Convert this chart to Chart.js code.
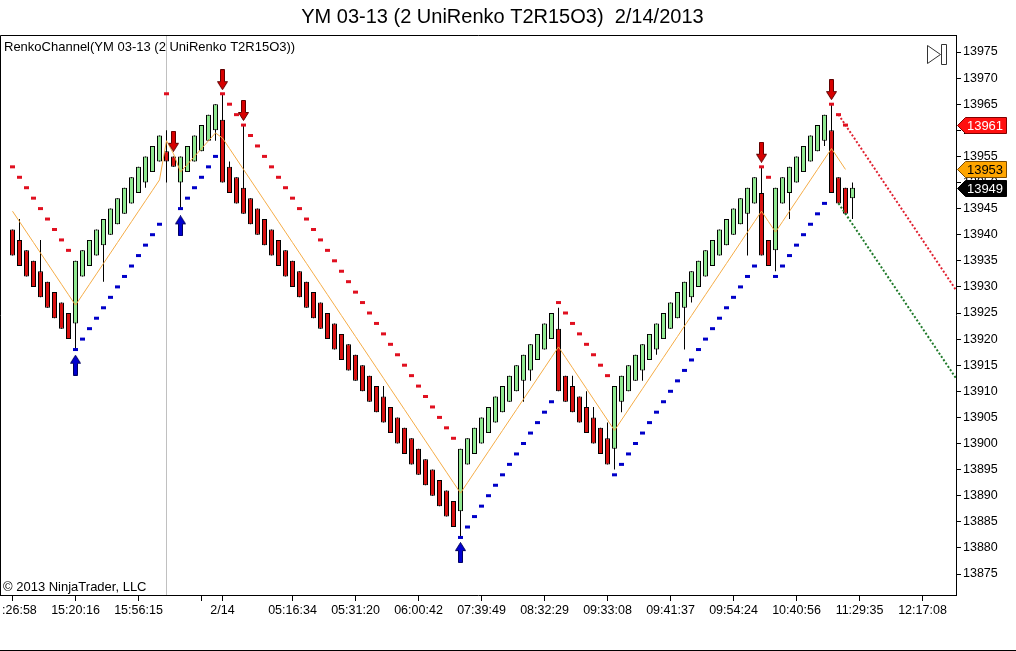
<!DOCTYPE html>
<html><head><meta charset="utf-8">
<script src="https://cdn.jsdelivr.net/npm/chart.js@4.4.1/dist/chart.umd.min.js"></script>
<style>html,body{margin:0;padding:0;background:#fff;overflow:hidden}canvas{display:block}</style>
</head><body>
<canvas id="c" width="1016" height="651"></canvas>
<script>
const titleText = 'YM 03-13 (2 UniRenko T2R15O3)  2/14/2013  ';
const indicatorLabel = 'RenkoChannel(YM 03-13 (2 UniRenko T2R15O3))';
const copyrightText = '\u00A9 2013 NinjaTrader, LLC';

const opens = [13941,13939,13937,13935,13933,13931,13929,13927,13925,
 13923,
 13932,13934,13936,13938,13940,13942,13944,13946,13948,13950,13952,13954,
 13956,13955,
 13950,13952,13954,13956,13958,13960,
 13962,
 13953,13951,13949,13947,13945,13943,13941,13939,13937,13935,
 13933,13931,13929,13927,13925,13923,13921,13919,13917,13915,
 13913,13911,13909,13907,13905,13903,13901,13899,13897,13895,
 13893,13891,13889,
 13887,
 13896,13898,13900,13902,13904,13906,13908,13910,13912,13914,13916,13918,13920,
 13922,
 13913,13911,13909,13907,13905,13903,13901,
 13899,
 13908,13910,13912,13914,13916,13918,13920,13922,13924,13926,13928,13930,13932,13934,13936,13938,13940,13942,13944,13946,
 13948,
 13939,
 13937,
 13946,13948,13950,13952,13954,13956,13958,
 13960,
 13951,13949,
 13947];

const closes = [13936,13934,13932,13930,13928,13926,13924,13922,13920,
 13935,
 13937,13939,13941,13943,13945,13947,13949,13951,13953,13955,13957,13959,
 13954,13953,
 13955,13957,13959,13961,13963,13965,
 13950,
 13948,13946,13944,13942,13940,13938,13936,13934,13932,13930,
 13928,13926,13924,13922,13920,13918,13916,13914,13912,13910,
 13908,13906,13904,13902,13900,13898,13896,13894,13892,13890,
 13888,13886,13884,
 13899,
 13901,13903,13905,13907,13909,13911,13913,13915,13917,13919,13921,13923,13925,
 13910,
 13908,13906,13904,13902,13900,13898,13896,
 13911,
 13913,13915,13917,13919,13921,13923,13925,13927,13929,13931,13933,13935,13937,13939,13941,13943,13945,13947,13949,13951,
 13936,
 13934,
 13949,
 13951,13953,13955,13957,13959,13961,13963,
 13948,
 13946,13944,
 13949];

const highs = [13941,13943,13937,13935,13939,13931,13929,13927,13925,
 13935,
 13937,13939,13941,13943,13945,13947,13949,13951,13953,13955,13957,13959,
 13960,13955,
 13955,13957,13959,13961,13963,13965,
 13967,
 13954,13951,13961,13947,13945,13943,13941,13939,13937,13935,
 13933,13931,13929,13927,13925,13923,13921,13919,13917,13915,
 13913,13911,13911,13907,13905,13903,13901,13899,13897,13895,
 13893,13891,13889,
 13899,
 13901,13903,13905,13907,13909,13911,13913,13915,13917,13919,13921,13923,13925,
 13926,
 13913,13913,13909,13910,13907,13903,13904,
 13911,
 13913,13915,13917,13919,13921,13923,13925,13927,13929,13931,13933,13935,13937,13939,13941,13943,13945,13947,13949,13951,
 13953,
 13939,
 13949,
 13951,13953,13955,13957,13959,13961,13963,
 13965,
 13951,13949,
 13950];

const lows = [13936,13934,13932,13930,13928,13926,13924,13922,13920,
 13918,
 13932,13934,13936,13931,13940,13942,13944,13946,13948,13949,13952,13954,
 13950,13953,
 13945,13952,13954,13956,13958,13958,
 13950,
 13948,13946,13944,13942,13940,13938,13936,13934,13932,13930,
 13928,13926,13924,13922,13920,13918,13916,13914,13912,13910,
 13908,13906,13904,13902,13900,13898,13896,13894,13892,13890,
 13888,13886,13884,
 13882,
 13896,13898,13900,13902,13904,13906,13908,13910,13908,13912,13916,13918,13920,
 13910,
 13908,13906,13904,13902,13900,13898,13896,
 13895,
 13906,13910,13912,13912,13916,13917,13920,13922,13924,13918,13927,13930,13932,13934,13936,13938,13940,13942,13936,13946,
 13936,
 13934,
 13933,
 13946,13943,13950,13952,13954,13956,13957,
 13948,
 13946,13944,
 13943];

const upperChannel = [13953,13951,13949,13947,13945,13943,13941,13939,13937,
 null,null,null,null,null,null,null,null,null,null,null,null,null,
 13967,null,
 null,null,null,null,null,null,
 13967,13965,13963,13961,13959,13957,13955,13953,13951,13949,13947,13945,13943,13941,13939,13937,13935,
 13933,13931,13929,13927,13925,13923,13921,13919,13917,13915,13913,13911,13909,13907,13905,13903,13901,
 null,null,null,null,null,null,null,null,null,null,null,null,null,null,
 13927,13925,13923,13921,13919,13917,13915,13913,
 null,null,null,null,null,null,null,null,null,null,null,null,null,null,null,null,null,null,null,null,null,
 13953,13951,
 null,null,null,null,null,null,null,null,
 13965,13963,13961,
 null];

const lowerChannel = [null,null,null,null,null,null,null,null,null,
 13918,13920,13922,13924,13926,13928,13930,13932,13934,13936,13938,13940,13942,
 null,null,
 13945,13947,13949,13951,13953,13955,
 null,null,null,null,null,null,null,null,null,null,null,null,null,null,null,null,null,
 null,null,null,null,null,null,null,null,null,null,null,null,null,null,null,null,null,
 13882,13884,13886,13888,13890,13892,13894,13896,13898,13900,13902,13904,13906,13908,
 null,null,null,null,null,null,null,null,
 13894,13896,13898,13900,13902,13904,13906,13908,13910,13912,13914,13916,13918,13920,13922,13924,13926,13928,13930,13932,13934,
 null,null,
 13932,13934,13936,13938,13940,13942,13944,13946,
 null,null,null,null];

const midLine = [13944.5,13942.5,13940.5,13938.5,13936.5,13934.5,13932.5,13930.5,13928.5,
 13926.5,13928.5,13930.5,13932.5,13934.5,13936.5,13938.5,13940.5,13942.5,13944.5,13946.5,13948.5,13950.5,
 13958,13955.5,
 13952,13953.5,13955,13956.5,13958,13959.5,
 13958.5,13956.5,13954.5,13952.5,13950.5,13948.5,13946.5,13944.5,13942.5,13940.5,13938.5,13936.5,13934.5,13932.5,13930.5,13928.5,13926.5,
 13924.5,13922.5,13920.5,13918.5,13916.5,13914.5,13912.5,13910.5,13908.5,13906.5,13904.5,13902.5,13900.5,13898.5,13896.5,13894.5,13892.5,
 13890.5,13892.5,13894.5,13896.5,13898.5,13900.5,13902.5,13904.5,13906.5,13908.5,13910.5,13912.5,13914.5,13916.5,
 13918.5,13916.5,13914.5,13912.5,13910.5,13908.5,13906.5,13904.5,
 13902.5,13904.5,13906.5,13908.5,13910.5,13912.5,13914.5,13916.5,13918.5,13920.5,13922.5,13924.5,13926.5,13928.5,13930.5,13932.5,13934.5,13936.5,13938.5,13940.5,13942.5,
 13944.5,13942.5,
 13940.5,13942.5,13944.5,13946.5,13948.5,13950.5,13952.5,13954.5,
 13956.5,13954.5,13952.5,
 null];

const sellSignalIdx = [23, 30, 33, 107, 117];
const sellSignalVal = [13957.9, 13969.7, 13963.8, 13955.8, 13967.8];
const buySignalIdx = [9, 24, 64];
const buySignalVal = [13915.0, 13941.7, 13879.1];

const upperProjIdx = [118, 134.79];
const upperProjVal = [13963, 13929.4];
const lowerProjIdx = [118, 134.79];
const lowerProjVal = [13946, 13912.5];

const xTickIdx = [0, 9, 18, 27, 30, 40, 49, 58, 67, 76, 85, 94, 103, 112, 121, 130];
const xTickLabels = ['    :26:58', '15:20:16', '15:56:15', '', '2/14', '05:16:34', '05:31:20', '06:00:42',
  '07:39:49', '08:32:29', '09:33:08', '09:41:37', '09:54:24', '10:40:56', '11:29:35', '12:17:08'];
const yTicks = [13875,13880,13885,13890,13895,13900,13905,13910,13915,13920,13925,13930,13935,13940,13945,13950,13955,13960,13965,13970,13975];
const sessionBreakIdx = 22;
const priceTagValues = [13961, 13952.5, 13949];
const priceTagLabels = ['13961', '13953', '13949'];

const FONT = '"Liberation Sans", Arial, sans-serif';
const UP_FILL = '#90e890', DOWN_FILL = '#d81010';

function makeArrow(dir, fill, stroke) {
  const c = document.createElement('canvas');
  c.width = 11; c.height = 21;
  const g = c.getContext('2d');
  const pts = [[3.5,0.5],[7.5,0.5],[7.5,12.5],[10.5,12.5],[5.5,20.5],[0.5,12.5],[3.5,12.5]];
  g.beginPath();
  pts.forEach((p, k) => {
    const y = dir === 'down' ? p[1] : 21 - p[1];
    if (k === 0) g.moveTo(p[0], y); else g.lineTo(p[0], y);
  });
  g.closePath();
  g.fillStyle = fill; g.fill();
  g.lineWidth = 1; g.strokeStyle = stroke; g.stroke();
  return c;
}
const downArrow = makeArrow('down', '#d80000', '#600000');
const upArrow = makeArrow('up', '#0000d0', '#000060');

const idx = closes.map((_, i) => i);
const pts = (arr) => arr.map((v, i) => v == null ? null : {x: i, y: v}).filter(Boolean);

const decorPlugin = {
  id: 'decor',
  beforeDatasetsDraw(chart) {
    const {ctx, chartArea, scales} = chart;
    const x = Math.round(scales.x.getPixelForValue(sessionBreakIdx) - 0.5) + 0.5;
    ctx.save();
    ctx.strokeStyle = '#c0c0c0'; ctx.lineWidth = 1;
    ctx.beginPath(); ctx.moveTo(x, chartArea.top); ctx.lineTo(x, chartArea.bottom); ctx.stroke();
    ctx.restore();
  },
  afterDraw(chart) {
    const {ctx, chartArea, scales} = chart;
    ctx.save();
    ctx.strokeStyle = '#000'; ctx.lineWidth = 1;
    ctx.beginPath();
    ctx.moveTo(0.5, chartArea.bottom); ctx.lineTo(0.5, chartArea.top + 0.5); ctx.lineTo(chartArea.right, chartArea.top + 0.5);
    ctx.moveTo(0, 650.5); ctx.lineTo(1016, 650.5);
    ctx.stroke();
    ctx.fillStyle = '#000';
    ctx.font = '13px ' + FONT;
    ctx.textBaseline = 'middle'; ctx.textAlign = 'left';
    ctx.fillText(indicatorLabel, 4, 47);
    ctx.fillText(copyrightText, 3, 587);
    // scroll icon
    ctx.strokeStyle = '#333';
    ctx.beginPath();
    ctx.moveTo(927.5, 45.5); ctx.lineTo(940.5, 54.5); ctx.lineTo(927.5, 63.5); ctx.closePath();
    ctx.rect(941.5, 44.5, 5, 20);
    ctx.stroke();
    // price tags
    const fills = ['#ff1010', '#ffa500', '#000000'];
    const strokes = ['#800000', '#7a4a00', '#000000'];
    const texts = ['#ffffff', '#000000', '#ffffff'];
    priceTagValues.forEach((v, k) => {
      const y = Math.round(scales.y.getPixelForValue(v)) + 0.5;
      const x0 = 957.5, xb = 965.5, x1 = 1006.5, h = 8;
      ctx.beginPath();
      ctx.moveTo(x0, y); ctx.lineTo(xb, y - h); ctx.lineTo(x1, y - h); ctx.lineTo(x1, y + h); ctx.lineTo(xb, y + h); ctx.closePath();
      ctx.fillStyle = fills[k]; ctx.fill();
      ctx.strokeStyle = strokes[k]; ctx.stroke();
      ctx.fillStyle = texts[k];
      ctx.font = '13px ' + FONT; ctx.textAlign = 'center'; ctx.textBaseline = 'middle';
      ctx.fillText(priceTagLabels[k], 985, y + 0.5);
    });
    ctx.restore();
  }
};

new Chart(document.getElementById('c'), {
  type: 'bar',
  data: {
    datasets: [
      { type: 'bar', label: 'wick', order: 6, grouped: false, barThickness: 1, inflateAmount: 0,
        data: idx.map(i => ({x: i, y: [lows[i], highs[i]]})), backgroundColor: '#000', borderWidth: 0 },
      { type: 'bar', label: 'body', order: 5, grouped: false, barThickness: 5, inflateAmount: 0,
        data: idx.map(i => ({x: i, y: [opens[i], closes[i]]})),
        backgroundColor: idx.map(i => closes[i] >= opens[i] ? UP_FILL : DOWN_FILL),
        borderColor: '#000', borderWidth: 1, borderSkipped: false },
      { type: 'line', label: 'mid', order: 4, data: midLine.map((v, i) => ({x: i, y: v})),
        borderColor: 'rgb(245,172,70)', borderWidth: 1, pointRadius: 0, tension: 0, spanGaps: false },
      { type: 'line', label: 'upperProj', order: 3, data: upperProjIdx.map((x, k) => ({x, y: upperProjVal[k]})),
        borderColor: '#e02030', borderWidth: 2, borderDash: [2, 2], pointRadius: 0 },
      { type: 'line', label: 'lowerProj', order: 3, data: lowerProjIdx.map((x, k) => ({x, y: lowerProjVal[k]})),
        borderColor: '#1f7a2a', borderWidth: 2, borderDash: [2, 2], pointRadius: 0 },
      { type: 'line', label: 'upper', order: 2, data: pts(upperChannel), showLine: false,
        pointStyle: 'line', pointRadius: 2.5, pointBorderWidth: 3, pointBorderColor: '#e01020', pointBackgroundColor: '#e01020' },
      { type: 'line', label: 'lower', order: 2, data: pts(lowerChannel), showLine: false,
        pointStyle: 'line', pointRadius: 2.5, pointBorderWidth: 3, pointBorderColor: '#0000c8', pointBackgroundColor: '#0000c8' },
      { type: 'line', label: 'sell', order: 1, data: sellSignalIdx.map((x, k) => ({x, y: sellSignalVal[k]})), showLine: false,
        pointStyle: downArrow, pointRadius: 10 },
      { type: 'line', label: 'buy', order: 1, data: buySignalIdx.map((x, k) => ({x, y: buySignalVal[k]})), showLine: false,
        pointStyle: upArrow, pointRadius: 10 }
    ]
  },
  options: {
    responsive: false, animation: false, devicePixelRatio: 1, events: [],
    layout: { padding: 0, autoPadding: false },
    font: { family: FONT },
    plugins: {
      legend: { display: false }, tooltip: { enabled: false },
      title: { display: true, text: titleText, color: '#000',
        font: { size: 20, weight: 'normal', family: FONT }, padding: { top: 5, bottom: 6 } }
    },
    scales: {
      x: { type: 'linear', min: -1.7857142857, max: 134.7857142857, offset: false, bounds: 'data',
        grid: { display: true, drawOnChartArea: false, drawTicks: true, tickLength: 6, color: '#000', offset: false },
        border: { display: true, color: '#000', width: 1 },
        ticks: { autoSkip: false, maxRotation: 0, minRotation: 0, color: '#000', padding: 2,
          font: { size: 12.5, family: FONT }, callback: (v, i) => xTickLabels[i] },
        afterBuildTicks: ax => { ax.ticks = xTickIdx.map(v => ({ value: v })); },
        afterFit: ax => { ax.height = 56; ax.paddingLeft = 0; ax.paddingRight = 0; } },
      y: { type: 'linear', position: 'right', min: 13870.977, max: 13978.257, bounds: 'data',
        grid: { display: true, drawOnChartArea: false, drawTicks: true, tickLength: 5, color: '#000' },
        border: { display: true, color: '#000', width: 1 },
        ticks: { color: '#000', padding: 2, font: { size: 12.5, family: FONT }, callback: v => String(v) },
        afterBuildTicks: ax => { ax.ticks = yTicks.map(v => ({ value: v })); },
        afterFit: ax => { ax.width = 60; ax.paddingTop = 0; ax.paddingBottom = 0; } }
    }
  },
  plugins: [decorPlugin]
});
</script>
</body></html>
